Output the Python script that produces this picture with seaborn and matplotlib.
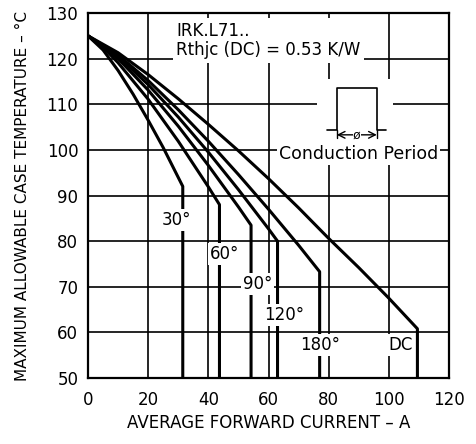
import matplotlib
matplotlib.use("Agg")
import matplotlib.pyplot as plt
from matplotlib.patches import Rectangle
import numpy as np
import pandas as pd
import seaborn as sns

# curve readings: current (A) vs max case temperature (degC), each ends in a drop to the axis
x30 = [0, 5, 10, 15, 20, 25, 31.5, 31.5]
y30 = [125, 121.9, 117.4, 112.2, 106.5, 100.5, 92, 50]
x60 = [0, 5, 10, 20, 30, 40, 43.7, 43.7]
y60 = [125, 122.5, 119.1, 111.1, 101.9, 91.9, 88, 50]
x90 = [0, 10, 20, 30, 40, 50, 54.2, 54.2]
y90 = [125, 120, 113.1, 105.2, 96.6, 87.5, 83.5, 50]
x120 = [0, 10, 20, 30, 40, 50, 60, 63, 63]
y120 = [125, 120.5, 114.3, 107.2, 99.5, 91.3, 82.7, 80, 50]
x180 = [0, 10, 20, 30, 40, 50, 60, 70, 77, 77]
y180 = [125, 120.8, 115.2, 108.8, 101.9, 94.6, 87, 79.1, 73.3, 50]
xdc = [0, 10, 20, 30, 40, 50, 60, 70, 80, 90, 100, 109.5, 109.5]
ydc = [125, 121.3, 116.5, 111.2, 105.6, 99.8, 93.7, 87.3, 80.6, 74.2, 67.5, 60.8, 50]

curve_names = ["30°", "60°", "90°", "120°", "180°", "DC"]
curve_x = [x30, x60, x90, x120, x180, xdc]
curve_y = [y30, y60, y90, y120, y180, ydc]

# where each curve label sits (x, y in data units)
label_x = [29.3, 45.3, 56.3, 65.3, 77.0, 104.0]
label_y = [84.7, 77.2, 70.5, 63.8, 57.2, 57.2]

x_ticks = [0, 20, 40, 60, 80, 100, 120]
y_ticks = [50, 60, 70, 80, 90, 100, 110, 120, 130]

rows = []
for name, xs, ys in zip(curve_names, curve_x, curve_y):
    for i, (xv, yv) in enumerate(zip(xs, ys)):
        rows.append({"curve": name, "order": i, "current": xv, "temp": yv})
df = pd.DataFrame(rows)

sns.set_theme(style="white")
plt.rcParams["font.family"] = ["DejaVu Sans"]
plt.rcParams["text.color"] = "black"
plt.rcParams["axes.labelcolor"] = "black"

fig = plt.figure(figsize=(4.77, 4.44), dpi=100)
ax = fig.add_axes([0.1845, 0.1486, 0.7568, 0.8221])

sns.lineplot(
    data=df, x="current", y="temp", hue="curve", units="curve",
    estimator=None, sort=False, palette=["black"] * len(curve_names),
    linewidth=2.2, legend=False, ax=ax, zorder=3,
)

ax.set_xlim(x_ticks[0], x_ticks[-1])
ax.set_ylim(y_ticks[0], y_ticks[-1])
ax.set_xticks(x_ticks)
ax.set_yticks(y_ticks)
ax.grid(True, color="black", linewidth=1.2)
ax.set_axisbelow(True)
for sp in ax.spines.values():
    sp.set_color("black")
    sp.set_linewidth(1.6)
ax.tick_params(length=0, labelsize=12, colors="black")
ax.tick_params(axis="x", pad=9)
ax.tick_params(axis="y", pad=7)

ax.set_xlabel("AVERAGE FORWARD CURRENT – A", fontsize=12, labelpad=4)
ax.set_ylabel("MAXIMUM ALLOWABLE CASE TEMPERATURE – °C", fontsize=11, labelpad=12)

white = dict(facecolor="white", edgecolor="none", pad=1.5)
for name, lx, ly in zip(curve_names, label_x, label_y):
    ax.text(lx, ly, name, ha="center", va="center", fontsize=12, bbox=white, zorder=4)

ax.text(29.3, 124.0, "IRK.L71..\nRthjc (DC) = 0.53 K/W", ha="left", va="center",
        fontsize=12, linespacing=1.1, bbox=dict(facecolor="white", edgecolor="none", pad=2.5), zorder=4)

# conduction period sketch
ax.add_patch(Rectangle((76, 101), 25.5, 14.5, facecolor="white", edgecolor="none", zorder=2))
ax.plot([79.4, 82.7, 82.7, 96, 96, 99], [104.4, 104.4, 113.6, 113.6, 104.4, 104.4],
        color="black", lw=1.2, zorder=3)
ax.plot([82.7, 82.7], [104.4, 102.6], color="black", lw=1.0, zorder=3)
ax.plot([96, 96], [104.4, 102.6], color="black", lw=1.0, zorder=3)
ax.annotate("", xy=(82.7, 103.3), xytext=(96, 103.3),
            arrowprops=dict(arrowstyle="<->", lw=1.0, color="black", shrinkA=0, shrinkB=0), zorder=3)
ax.text(89.35, 103.3, "ø", ha="center", va="center", fontsize=9,
        bbox=dict(facecolor="white", edgecolor="none", pad=0.3), zorder=4)
ax.text(90, 99.2, "Conduction Period", ha="center", va="center", fontsize=12.5,
        bbox=dict(facecolor="white", edgecolor="none", pad=1.5), zorder=4)

fig.savefig("out.png", dpi=100)
plt.close(fig)
